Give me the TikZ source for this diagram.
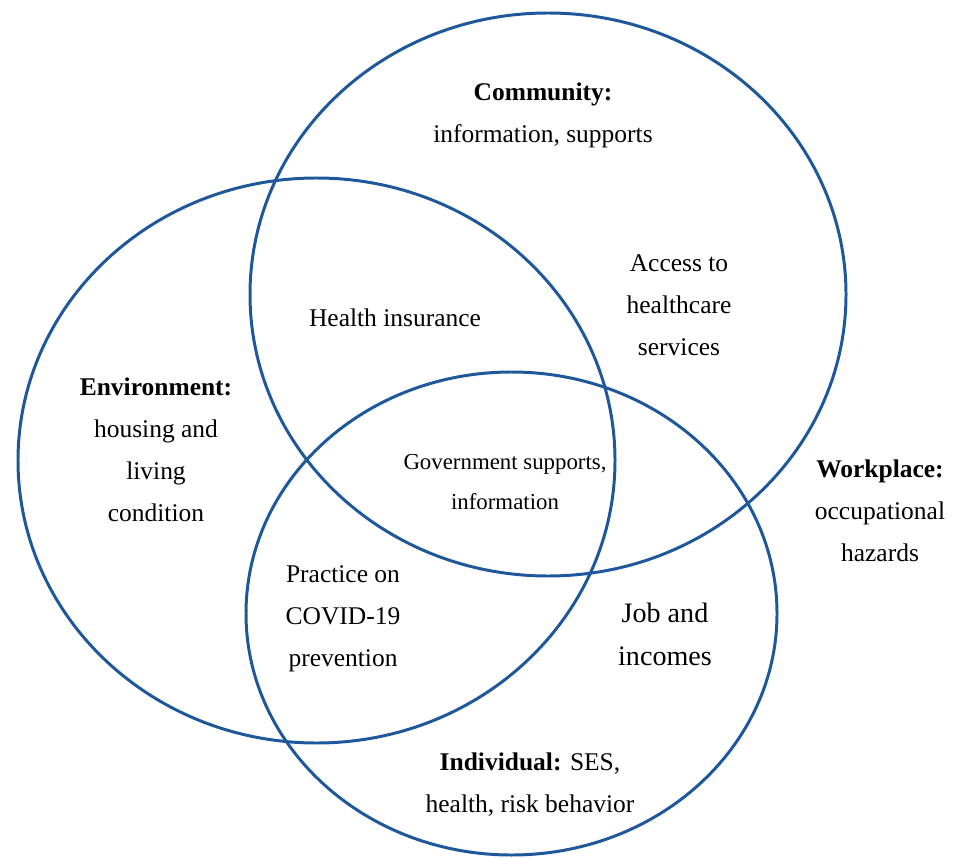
\documentclass[tikz,border=0pt]{standalone}
\usepackage{fontspec}
\setmainfont{Liberation Serif}
\usepackage{tikz}
\definecolor{ringblue}{RGB}{31,87,155}
\tikzset{
	ring/.style={line width=1.7pt, draw=ringblue},
	label/.style={align=center, font=\fontsize{14.5}{23.8}\selectfont},
}

\begin{document}
\begin{tikzpicture}[x=0.02cm, y=-0.02cm]
			%%%%% START %%%%%
			\useasboundingbox (0, 0) rectangle (953, 858);
			
			% the three spheres
			\draw[ring] (548, 294.5) ellipse [x radius=298, y radius=281.5];
			\draw[ring] (316.5, 460.5) ellipse [x radius=298.5, y radius=282.5];
			\draw[ring] (511.5, 613.5) ellipse [x radius=265.5, y radius=241.5];
			
			\node[label] (community) at (543, 115) {\textbf{Community:}\\information, supports};
			\node[label] (access) at (679, 305) {Access to\\healthcare\\services};
			\node[label] (insurance) at (395, 318) {Health insurance};
			\node[label] (environment) at (156, 450) {\textbf{Environment:}\\housing and\\living\\condition};
			\node[label, font=\fontsize{13}{22.5}\selectfont] (government) at (505, 482) {Government supports,\\information};
			\node[label] (practice) at (343, 619) {Practice on\\COVID-19\\prevention};
			\node[label, font=\fontsize{16}{24.5}\selectfont] (job) at (665, 634) {Job and\\incomes};
			\node[label] (workplace) at (880, 511) {\textbf{Workplace:}\\occupational\\hazards};
			\node[label] (individual) at (530, 784.5) {\textbf{Individual:} SES,\\health, risk behavior};
			
			%%%%% END %%%%%
\end{tikzpicture}
\end{document}
